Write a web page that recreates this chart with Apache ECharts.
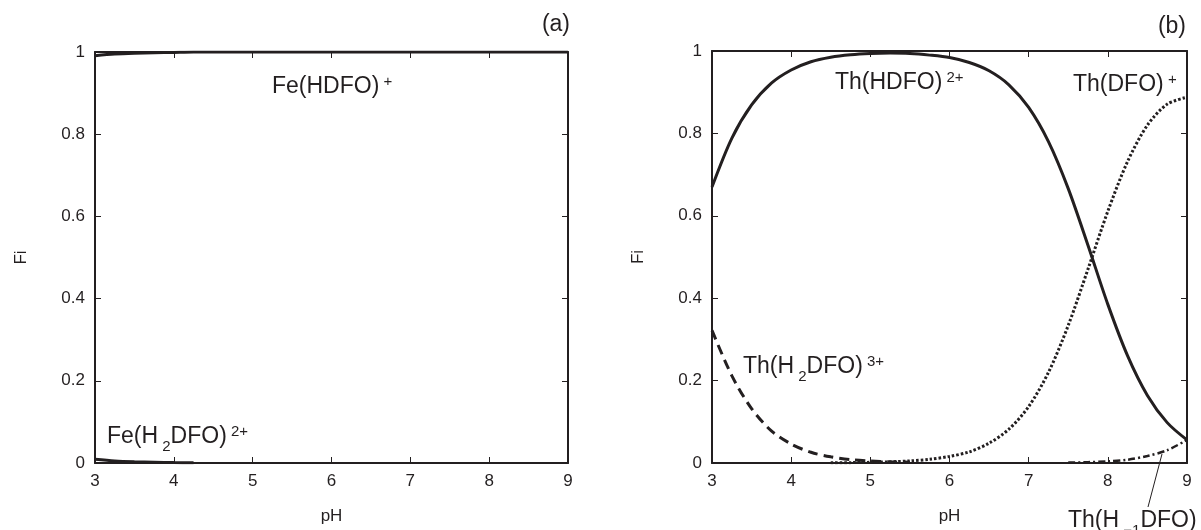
<!DOCTYPE html>
<html>
<head>
<meta charset="utf-8">
<script src="https://cdn.jsdelivr.net/npm/echarts@6/dist/echarts.min.js"></script>
<style>
html,body{margin:0;padding:0;background:#fff;}
#chart{width:1201px;height:530px;}
</style>
</head>
<body>
<div id="chart"></div>
<script>
// ---- data ----
var xTicks = [3, 4, 5, 6, 7, 8, 9];
var yTicks = [0, 0.2, 0.4, 0.6, 0.8, 1];

// panel (a): Fe
var fePH = [3, 3.25, 3.5, 3.75, 4, 4.25, 4.5, 5, 6, 7, 8, 9];
var feHDFO = [0.991, 0.995, 0.997, 0.998, 0.999, 1, 1, 1, 1, 1, 1, 1];
var feH2pH = [3, 3.25, 3.5, 3.75, 4, 4.25];
var feH2DFO = [0.009, 0.005, 0.003, 0.002, 0.001, 0.0005];

// panel (b): Th
var thPH = [3, 3.25, 3.5, 3.75, 4, 4.25, 4.5, 4.75, 5, 5.25, 5.5, 5.75, 6, 6.25, 6.5, 6.75, 7, 7.25, 7.5, 7.75, 8, 8.25, 8.5, 8.75, 9];
var thHDFO = [0.67, 0.788, 0.869, 0.922, 0.954, 0.974, 0.985, 0.991, 0.994, 0.995, 0.994, 0.990, 0.984, 0.972, 0.952, 0.918, 0.863, 0.780, 0.666, 0.528, 0.385, 0.260, 0.164, 0.098, 0.056];
var thH2pH = [3, 3.25, 3.5, 3.75, 4, 4.25, 4.5, 4.75, 5, 5.25, 5.5];
var thH2DFO = [0.322, 0.212, 0.132, 0.078, 0.046, 0.026, 0.015, 0.008, 0.005, 0.003, 0.002];
var thDFOpH = [4.5, 4.75, 5, 5.25, 5.5, 5.75, 6, 6.25, 6.5, 6.75, 7, 7.25, 7.5, 7.75, 8, 8.25, 8.5, 8.75, 9];
var thDFO = [0.0005, 0.0009, 0.0016, 0.0028, 0.005, 0.009, 0.016, 0.027, 0.048, 0.082, 0.137, 0.220, 0.334, 0.471, 0.611, 0.732, 0.820, 0.871, 0.888];
var thHm1pH = [7.5, 7.75, 8, 8.25, 8.5, 8.75, 9];
var thHm1DFO = [0.001, 0.002, 0.004, 0.008, 0.017, 0.031, 0.056];

// ---- styling ----
var INK = '#231f20';
var FONT = '"Liberation Sans", Arial, Helvetica, sans-serif';

function pairs(xs, ys) {
  return xs.map(function (x, i) { return [x, ys[i]]; });
}

function xAx(grid, pos) {
  var bottom = pos === 'bottom';
  return {
    gridIndex: grid, type: 'value', position: pos,
    min: xTicks[0], max: xTicks[xTicks.length - 1], interval: 1,
    axisLine: { show: true, onZero: false, lineStyle: { color: INK, width: 2 } },
    axisTick: { show: true, inside: true, length: 6, lineStyle: { color: INK, width: 1 } },
    axisLabel: { show: bottom, fontSize: 17, color: INK, fontFamily: FONT, margin: 10 },
    splitLine: { show: false },
    name: bottom ? 'pH' : '', nameLocation: 'middle', nameGap: 45,
    nameTextStyle: { fontSize: 17, color: INK, fontFamily: FONT }
  };
}
function yAx(grid, pos) {
  var left = pos === 'left';
  return {
    gridIndex: grid, type: 'value', position: pos,
    min: yTicks[0], max: yTicks[yTicks.length - 1], interval: 0.2,
    axisLine: { show: true, onZero: false, lineStyle: { color: INK, width: 2 } },
    axisTick: { show: true, inside: true, length: 6, lineStyle: { color: INK, width: 1 } },
    axisLabel: { show: left, fontSize: 17, color: INK, fontFamily: FONT, margin: 10 },
    splitLine: { show: false },
    name: left ? 'Fi' : '', nameLocation: 'middle', nameGap: 65, nameRotate: 90,
    nameTextStyle: { fontSize: 17, color: INK, fontFamily: FONT }
  };
}

function line(xi, yi, data, lw, type) {
  return {
    type: 'line', xAxisIndex: xi, yAxisIndex: yi, data: data,
    smooth: 0.3, symbol: 'none', silent: true, z: 3,
    lineStyle: { color: INK, width: lw, type: type || 'solid', cap: 'butt' }
  };
}

var rich = {
  m: { fontSize: 23, lineHeight: 34, color: INK, fontFamily: FONT, verticalAlign: 'middle' },
  sb: { fontSize: 15, lineHeight: 15, color: INK, fontFamily: FONT, verticalAlign: 'bottom' },
  sp: { fontSize: 15, lineHeight: 15, color: INK, fontFamily: FONT, verticalAlign: 'top', padding: [4, 0, 0, 0] }
};
function label(x, y, text, align) {
  return {
    type: 'text', x: x, y: y, z: 10, silent: true,
    style: { text: text, rich: rich, fill: INK, align: align || 'left', verticalAlign: 'middle' }
  };
}

var option = {
  backgroundColor: '#fff',
  animation: false,
  grid: [
    { left: 95, right: 633, top: 52, bottom: 67 },
    { left: 712, right: 14, top: 51, bottom: 67 }
  ],
  xAxis: [xAx(0, 'bottom'), xAx(0, 'top'), xAx(1, 'bottom'), xAx(1, 'top')],
  yAxis: [yAx(0, 'left'), yAx(0, 'right'), yAx(1, 'left'), yAx(1, 'right')],
  series: [
    line(0, 0, pairs(fePH, feHDFO), 3),
    line(0, 0, pairs(feH2pH, feH2DFO), 3),
    line(2, 2, pairs(thPH, thHDFO), 3),
    line(2, 2, pairs(thH2pH, thH2DFO), 3, [10, 6]),
    line(2, 2, pairs(thDFOpH, thDFO), 3, [2.5, 2]),
    line(2, 2, pairs(thHm1pH, thHm1DFO), 2.5, [7, 3, 2, 3])
  ],
  graphic: [
    label(570, 25, '{m|(a)}', 'right'),
    label(1186, 27, '{m|(b)}', 'right'),
    label(272, 87, '{m|Fe(HDFO)}{sp| +}'),
    label(107, 437, '{m|Fe(H}{sb| 2}{m|DFO)}{sp| 2+}'),
    label(835, 83, '{m|Th(HDFO)}{sp| 2+}'),
    label(1073, 85, '{m|Th(DFO)}{sp| +}'),
    label(743, 367, '{m|Th(H}{sb| 2}{m|DFO)}{sp| 3+}'),
    label(1068, 521, '{m|Th(H}{sb| \u22121}{m|DFO)}'),
    {
      type: 'line', silent: true, z: 10,
      shape: { x1: 1162, y1: 454, x2: 1148, y2: 507 },
      style: { stroke: INK, lineWidth: 1 }
    }
  ]
};

var chart = echarts.init(document.getElementById('chart'), null, { renderer: 'canvas' });
chart.setOption(option);
</script>
</body>
</html>
